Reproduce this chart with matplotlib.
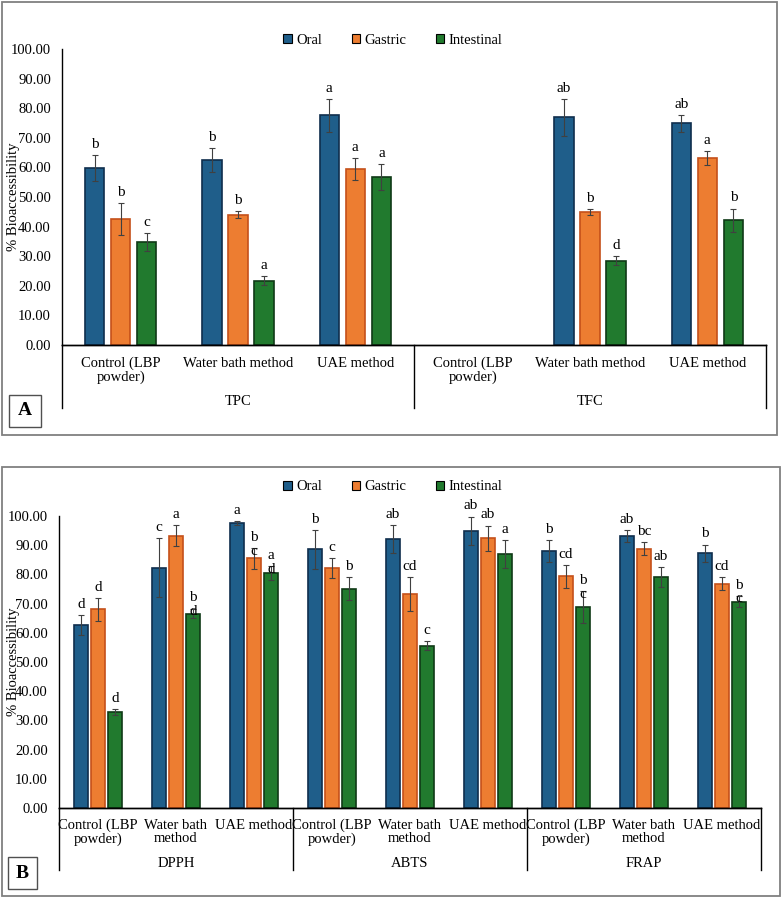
import numpy as np
import matplotlib
matplotlib.use("Agg")
import matplotlib.pyplot as plt
from matplotlib.patches import Rectangle, Patch
import matplotlib.transforms as mtransforms

plt.rcParams['font.family'] = ['Liberation Serif', 'DejaVu Serif']

# ---- data, panel A
a_groups = ["TPC", "TFC"]
a_cats = ["Control (LBP\npowder)", "Water bath method", "UAE method"] * 2
a_oral = [59.8, 62.6, 77.6, np.nan, 76.9, 74.9]
a_gast = [42.6, 44.0, 59.5, np.nan, 44.9, 63.1]
a_inte = [34.7, 21.7, 56.8, np.nan, 28.5, 42.2]
a_oral_err = [4.3, 4.0, 5.5, np.nan, 6.2, 2.8]
a_gast_err = [5.4, 1.2, 3.6, np.nan, 1.1, 2.4]
a_inte_err = [3.1, 1.5, 4.3, np.nan, 1.5, 3.9]
a_oral_let = ["b", "b", "a", "", "ab", "ab"]
a_gast_let = ["b", "b", "a", "", "b", "a"]
a_inte_let = ["c", "a", "a", "", "d", "b"]

# ---- data, panel B
b_groups = ["DPPH", "ABTS", "FRAP"]
b_cats = ["Control (LBP\npowder)", "Water bath\nmethod", "UAE method"] * 3
b_oral = [62.8, 82.3, 97.6, 88.6, 92.1, 94.9, 88.0, 93.2, 87.3]
b_gast = [68.0, 93.3, 85.5, 82.2, 73.2, 92.4, 79.3, 88.8, 76.8]
b_inte = [33.0, 66.6, 80.5, 75.1, 55.6, 87.0, 68.8, 79.1, 70.7]
b_oral_err = [3.4, 10.0, 0.8, 6.7, 4.8, 4.9, 3.7, 2.1, 2.9]
b_gast_err = [4.0, 3.7, 3.5, 3.3, 5.9, 4.3, 4.0, 2.2, 2.3]
b_inte_err = [1.0, 1.7, 2.4, 3.9, 1.5, 4.7, 5.5, 3.3, 2.0]
b_oral_let = ["d", "c", "a", "b", "ab", "ab", "b", "ab", "b"]
b_gast_let = ["d", "a", "b", "c", "cd", "ab", "cd", "bc", "cd"]
b_inte_let = ["d", "b", "a", "b", "c", "a", "b", "ab", "b"]
b_gast_let2 = ["", "", "c", "", "", "", "", "", ""]
b_inte_let2 = ["", "d", "d", "", "", "", "c", "", "c"]

series = ["Oral", "Gastric", "Intestinal"]
face = ["#1F5E8A", "#ED7D31", "#217A2E"]
edge = ["#0F2E4D", "#C5501A", "#0F3A16"]

W, H = 782, 899
fig = plt.figure(figsize=(W / 100, H / 100), dpi=100)


def px(x0, y0, x1, y1):
    # pixel box -> figure fraction [left, bottom, width, height]
    return [x0 / W, 1 - y1 / H, (x1 - x0) / W, (y1 - y0) / H]


def panel(rect, groups, cats, vals, errs, lets, lets2, off, bw, fs_cat,
          cat_y, grp_y, line_y):
    ax = fig.add_axes(rect)
    n = len(cats)
    x = np.arange(n)
    for k in range(3):
        xs = x + (k - 1) * off
        ax.bar(xs, vals[k], bw, color=face[k], edgecolor=edge[k], lw=1.2,
               zorder=2)
        ax.errorbar(xs, vals[k], yerr=errs[k], fmt="none", ecolor="#404040",
                    elinewidth=0.8, capsize=2, capthick=0.8, zorder=3)
        for i in range(n):
            if np.isnan(vals[k][i]):
                continue
            top = vals[k][i] + errs[k][i]
            ax.annotate(lets[k][i], (xs[i], top), xytext=(0, 3),
                        textcoords="offset points", ha="center", va="bottom",
                        fontsize=11, annotation_clip=False)
            if lets2[k] is not None and lets2[k][i]:
                ax.annotate(lets2[k][i], (xs[i], top), xytext=(0, -7),
                            textcoords="offset points", ha="center",
                            va="bottom", fontsize=11, annotation_clip=False)
    ax.set_xlim(-0.5, n - 0.5)
    ax.set_ylim(0, 100)
    ax.set_yticks(np.arange(0, 101, 10))
    ax.set_yticklabels([f"{v:.2f}" for v in np.arange(0, 101, 10)])
    ax.tick_params(axis="y", length=0, pad=8, labelsize=10.5)
    ax.set_xticks([])
    for s in ["top", "right"]:
        ax.spines[s].set_visible(False)
    ax.spines["left"].set_linewidth(1.0)
    ax.spines["bottom"].set_linewidth(1.0)
    ax.set_ylabel("% Bioaccessibility", fontsize=10.5)
    trans = mtransforms.blended_transform_factory(ax.transData, ax.transAxes)
    # hierarchical category axis
    ax.plot([-0.5, -0.5], [0, line_y], color="black", lw=1.0,
            transform=trans, clip_on=False)
    ax.plot([n - 0.5, n - 0.5], [0, line_y], color="black", lw=1.0,
            transform=trans, clip_on=False)
    ax.plot([-0.5, n - 0.5], [0, 0], color="black", lw=1.0,
            transform=trans, clip_on=False, zorder=4)
    g = n // len(groups)
    for j in range(1, len(groups)):
        ax.plot([j * g - 0.5] * 2, [0, line_y], color="black", lw=1.0,
                transform=trans, clip_on=False)
    for i, c in enumerate(cats):
        ax.text(i, cat_y, c, transform=trans, ha="center", va="top",
                fontsize=fs_cat, linespacing=1.0)
    for j, gname in enumerate(groups):
        ax.text(j * g + (g - 1) / 2, grp_y, gname, transform=trans,
                ha="center", va="center", fontsize=10.5)
    return ax


axA = panel(px(62, 49, 766, 345), a_groups, a_cats,
            [a_oral, a_gast, a_inte], [a_oral_err, a_gast_err, a_inte_err],
            [a_oral_let, a_gast_let, a_inte_let], [None, None, None],
            0.222, 0.165, 10.5, -0.04, -0.19, -0.213)
axA.yaxis.set_label_coords(-(62 - 20) / 704, 0.5)

axB = panel(px(59, 516, 761, 808), b_groups, b_cats,
            [b_oral, b_gast, b_inte], [b_oral_err, b_gast_err, b_inte_err],
            [b_oral_let, b_gast_let, b_inte_let],
            [None, b_gast_let2, b_inte_let2],
            0.218, 0.17, 10.5, -0.037, -0.19, -0.212)
axB.yaxis.set_label_coords(-(59 - 20) / 702, 0.5)

# legends
handles = [Patch(facecolor=face[k], edgecolor="#000000", lw=0.8)
           for k in range(3)]
for yl in [40, 487]:
    fig.legend(handles, series, loc="center", ncol=3, frameon=False,
               bbox_to_anchor=(393 / W, 1 - yl / H), fontsize=10.5,
               handlelength=0.6, handleheight=0.6, handletextpad=0.3,
               columnspacing=2.0)

# panel borders and letter boxes
for (x0, y0, x1, y1) in [(2, 2, 777, 435), (2, 467, 780, 896)]:
    fig.add_artist(Rectangle((x0 / W, 1 - y1 / H), (x1 - x0) / W,
                             (y1 - y0) / H, transform=fig.transFigure,
                             fill=False, edgecolor="#808080", lw=1.3))
for (x0, y0, x1, y1, t) in [(9, 395, 41, 427, "A"), (8, 857, 37, 889, "B")]:
    fig.add_artist(Rectangle((x0 / W, 1 - y1 / H), (x1 - x0) / W,
                             (y1 - y0) / H, transform=fig.transFigure,
                             fill=False, edgecolor="#505050", lw=1.0))
    fig.text((x0 + x1) / 2 / W, 1 - (y0 + y1) / 2 / H, t, ha="center",
             va="center", fontsize=14, fontweight="bold")

fig.savefig("out.png", dpi=100)
